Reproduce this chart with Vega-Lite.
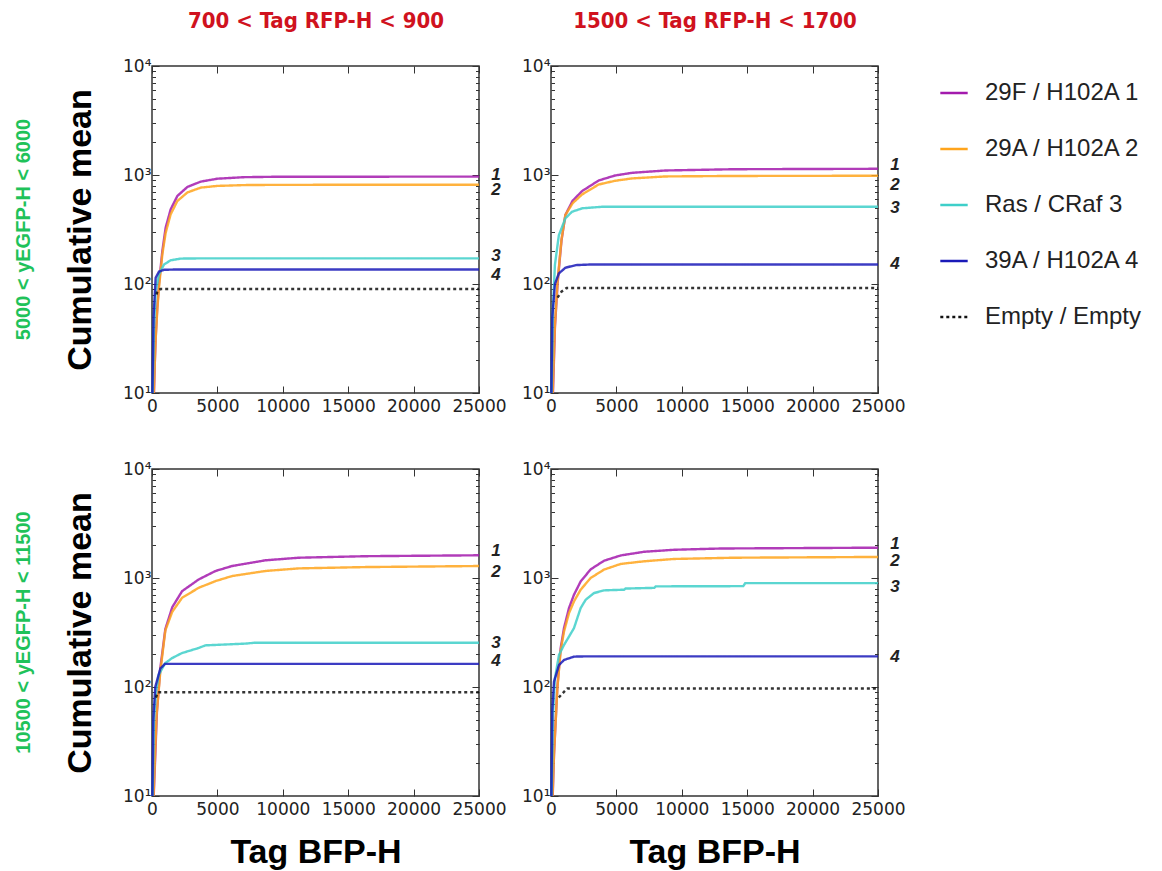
{
"$schema": "https://vega.github.io/schema/vega-lite/v6.json",
"padding": {"left": 12, "top": 8, "right": 5, "bottom": 0},
"datasets": {
"curves": [
{"p":"A","s":"29F / H102A 1","x":150,"y":10},{"p":"A","s":"29F / H102A 1","x":220,"y":20},{"p":"A","s":"29F / H102A 1","x":280,"y":32},{"p":"A","s":"29F / H102A 1","x":400,"y":60},{"p":"A","s":"29F / H102A 1","x":535,"y":100},{"p":"A","s":"29F / H102A 1","x":790,"y":201},{"p":"A","s":"29F / H102A 1","x":1045,"y":329},{"p":"A","s":"29F / H102A 1","x":1427,"y":484},{"p":"A","s":"29F / H102A 1","x":1937,"y":642},{"p":"A","s":"29F / H102A 1","x":2701,"y":776},{"p":"A","s":"29F / H102A 1","x":3720,"y":869},{"p":"A","s":"29F / H102A 1","x":4995,"y":925},{"p":"A","s":"29F / H102A 1","x":7033,"y":955},{"p":"A","s":"29F / H102A 1","x":9327,"y":963},{"p":"A","s":"29F / H102A 1","x":25000,"y":967},
{"p":"A","s":"29A / H102A 2","x":140,"y":10},{"p":"A","s":"29A / H102A 2","x":220,"y":20},{"p":"A","s":"29A / H102A 2","x":280,"y":31},{"p":"A","s":"29A / H102A 2","x":400,"y":57},{"p":"A","s":"29A / H102A 2","x":535,"y":93},{"p":"A","s":"29A / H102A 2","x":790,"y":187},{"p":"A","s":"29A / H102A 2","x":1045,"y":295},{"p":"A","s":"29A / H102A 2","x":1427,"y":436},{"p":"A","s":"29A / H102A 2","x":1937,"y":577},{"p":"A","s":"29A / H102A 2","x":2701,"y":691},{"p":"A","s":"29A / H102A 2","x":3720,"y":766},{"p":"A","s":"29A / H102A 2","x":4995,"y":794},{"p":"A","s":"29A / H102A 2","x":7033,"y":808},{"p":"A","s":"29A / H102A 2","x":9327,"y":812},{"p":"A","s":"29A / H102A 2","x":25000,"y":815},
{"p":"A","s":"Ras / CRaf 3","x":50,"y":10},{"p":"A","s":"Ras / CRaf 3","x":150,"y":40},{"p":"A","s":"Ras / CRaf 3","x":280,"y":86},{"p":"A","s":"Ras / CRaf 3","x":535,"y":123},{"p":"A","s":"Ras / CRaf 3","x":917,"y":151},{"p":"A","s":"Ras / CRaf 3","x":1427,"y":165},{"p":"A","s":"Ras / CRaf 3","x":2192,"y":171},{"p":"A","s":"Ras / CRaf 3","x":4000,"y":172},{"p":"A","s":"Ras / CRaf 3","x":25000,"y":172},
{"p":"A","s":"39A / H102A 4","x":30,"y":10},{"p":"A","s":"39A / H102A 4","x":120,"y":50},{"p":"A","s":"39A / H102A 4","x":280,"y":114},{"p":"A","s":"39A / H102A 4","x":535,"y":130},{"p":"A","s":"39A / H102A 4","x":917,"y":135},{"p":"A","s":"39A / H102A 4","x":2000,"y":136},{"p":"A","s":"39A / H102A 4","x":25000,"y":136},
{"p":"A","s":"Empty / Empty","x":350,"y":80},{"p":"A","s":"Empty / Empty","x":408,"y":86},{"p":"A","s":"Empty / Empty","x":663,"y":90},{"p":"A","s":"Empty / Empty","x":25000,"y":90},

{"p":"B","s":"29F / H102A 1","x":150,"y":10},{"p":"B","s":"29F / H102A 1","x":300,"y":40},{"p":"B","s":"29F / H102A 1","x":500,"y":100},{"p":"B","s":"29F / H102A 1","x":800,"y":250},{"p":"B","s":"29F / H102A 1","x":1100,"y":430},{"p":"B","s":"29F / H102A 1","x":1650,"y":580},{"p":"B","s":"29F / H102A 1","x":2370,"y":711},{"p":"B","s":"29F / H102A 1","x":3640,"y":890},{"p":"B","s":"29F / H102A 1","x":4900,"y":990},{"p":"B","s":"29F / H102A 1","x":6190,"y":1047},{"p":"B","s":"29F / H102A 1","x":8740,"y":1100},{"p":"B","s":"29F / H102A 1","x":14000,"y":1130},{"p":"B","s":"29F / H102A 1","x":25000,"y":1140},
{"p":"B","s":"29A / H102A 2","x":130,"y":10},{"p":"B","s":"29A / H102A 2","x":300,"y":42},{"p":"B","s":"29A / H102A 2","x":500,"y":105},{"p":"B","s":"29A / H102A 2","x":800,"y":255},{"p":"B","s":"29A / H102A 2","x":1100,"y":430},{"p":"B","s":"29A / H102A 2","x":1650,"y":550},{"p":"B","s":"29A / H102A 2","x":2370,"y":662},{"p":"B","s":"29A / H102A 2","x":3640,"y":818},{"p":"B","s":"29A / H102A 2","x":4900,"y":885},{"p":"B","s":"29A / H102A 2","x":6190,"y":930},{"p":"B","s":"29A / H102A 2","x":8740,"y":970},{"p":"B","s":"29A / H102A 2","x":14000,"y":980},{"p":"B","s":"29A / H102A 2","x":25000,"y":984},
{"p":"B","s":"Ras / CRaf 3","x":50,"y":10},{"p":"B","s":"Ras / CRaf 3","x":150,"y":60},{"p":"B","s":"Ras / CRaf 3","x":300,"y":150},{"p":"B","s":"Ras / CRaf 3","x":600,"y":280},{"p":"B","s":"Ras / CRaf 3","x":1100,"y":400},{"p":"B","s":"Ras / CRaf 3","x":1600,"y":460},{"p":"B","s":"Ras / CRaf 3","x":2400,"y":495},{"p":"B","s":"Ras / CRaf 3","x":3900,"y":511},{"p":"B","s":"Ras / CRaf 3","x":25000,"y":511},
{"p":"B","s":"39A / H102A 4","x":30,"y":10},{"p":"B","s":"39A / H102A 4","x":100,"y":50},{"p":"B","s":"39A / H102A 4","x":300,"y":100},{"p":"B","s":"39A / H102A 4","x":600,"y":125},{"p":"B","s":"39A / H102A 4","x":1100,"y":141},{"p":"B","s":"39A / H102A 4","x":1900,"y":149},{"p":"B","s":"39A / H102A 4","x":3000,"y":151},{"p":"B","s":"39A / H102A 4","x":25000,"y":151},
{"p":"B","s":"Empty / Empty","x":500,"y":75},{"p":"B","s":"Empty / Empty","x":800,"y":85},{"p":"B","s":"Empty / Empty","x":1200,"y":92},{"p":"B","s":"Empty / Empty","x":25000,"y":92},

{"p":"C","s":"29F / H102A 1","x":130,"y":10},{"p":"C","s":"29F / H102A 1","x":380,"y":60},{"p":"C","s":"29F / H102A 1","x":640,"y":150},{"p":"C","s":"29F / H102A 1","x":1020,"y":340},{"p":"C","s":"29F / H102A 1","x":1550,"y":540},{"p":"C","s":"29F / H102A 1","x":2300,"y":757},{"p":"C","s":"29F / H102A 1","x":3570,"y":970},{"p":"C","s":"29F / H102A 1","x":4850,"y":1159},{"p":"C","s":"29F / H102A 1","x":6120,"y":1288},{"p":"C","s":"29F / H102A 1","x":8670,"y":1453},{"p":"C","s":"29F / H102A 1","x":11220,"y":1535},{"p":"C","s":"29F / H102A 1","x":16330,"y":1585},{"p":"C","s":"29F / H102A 1","x":25000,"y":1616},
{"p":"C","s":"29A / H102A 2","x":120,"y":10},{"p":"C","s":"29A / H102A 2","x":350,"y":55},{"p":"C","s":"29A / H102A 2","x":640,"y":140},{"p":"C","s":"29A / H102A 2","x":1020,"y":330},{"p":"C","s":"29A / H102A 2","x":1550,"y":490},{"p":"C","s":"29A / H102A 2","x":2300,"y":658},{"p":"C","s":"29A / H102A 2","x":3570,"y":813},{"p":"C","s":"29A / H102A 2","x":4850,"y":936},{"p":"C","s":"29A / H102A 2","x":6120,"y":1042},{"p":"C","s":"29A / H102A 2","x":8670,"y":1160},{"p":"C","s":"29A / H102A 2","x":11220,"y":1225},{"p":"C","s":"29A / H102A 2","x":16330,"y":1260},{"p":"C","s":"29A / H102A 2","x":25000,"y":1288},
{"p":"C","s":"Ras / CRaf 3","x":50,"y":10},{"p":"C","s":"Ras / CRaf 3","x":150,"y":50},{"p":"C","s":"Ras / CRaf 3","x":300,"y":90},{"p":"C","s":"Ras / CRaf 3","x":510,"y":129},{"p":"C","s":"Ras / CRaf 3","x":1000,"y":165},{"p":"C","s":"Ras / CRaf 3","x":1530,"y":184},{"p":"C","s":"Ras / CRaf 3","x":2300,"y":205},{"p":"C","s":"Ras / CRaf 3","x":3570,"y":228},{"p":"C","s":"Ras / CRaf 3","x":4080,"y":241},{"p":"C","s":"Ras / CRaf 3","x":7140,"y":250},{"p":"C","s":"Ras / CRaf 3","x":7910,"y":255},{"p":"C","s":"Ras / CRaf 3","x":25000,"y":255},
{"p":"C","s":"39A / H102A 4","x":30,"y":10},{"p":"C","s":"39A / H102A 4","x":100,"y":50},{"p":"C","s":"39A / H102A 4","x":250,"y":100},{"p":"C","s":"39A / H102A 4","x":640,"y":148},{"p":"C","s":"39A / H102A 4","x":1000,"y":163},{"p":"C","s":"39A / H102A 4","x":25000,"y":163},
{"p":"C","s":"Empty / Empty","x":300,"y":80},{"p":"C","s":"Empty / Empty","x":450,"y":89.5},{"p":"C","s":"Empty / Empty","x":25000,"y":89.5},

{"p":"D","s":"29F / H102A 1","x":130,"y":10},{"p":"D","s":"29F / H102A 1","x":229,"y":24},{"p":"D","s":"29F / H102A 1","x":484,"y":99},{"p":"D","s":"29F / H102A 1","x":739,"y":227},{"p":"D","s":"29F / H102A 1","x":994,"y":347},{"p":"D","s":"29F / H102A 1","x":1376,"y":530},{"p":"D","s":"29F / H102A 1","x":1758,"y":703},{"p":"D","s":"29F / H102A 1","x":2268,"y":930},{"p":"D","s":"29F / H102A 1","x":3032,"y":1200},{"p":"D","s":"29F / H102A 1","x":4052,"y":1440},{"p":"D","s":"29F / H102A 1","x":5326,"y":1610},{"p":"D","s":"29F / H102A 1","x":7110,"y":1740},{"p":"D","s":"29F / H102A 1","x":9404,"y":1815},{"p":"D","s":"29F / H102A 1","x":13000,"y":1865},{"p":"D","s":"29F / H102A 1","x":25000,"y":1897},
{"p":"D","s":"29A / H102A 2","x":120,"y":10},{"p":"D","s":"29A / H102A 2","x":229,"y":24},{"p":"D","s":"29A / H102A 2","x":484,"y":97},{"p":"D","s":"29A / H102A 2","x":739,"y":215},{"p":"D","s":"29A / H102A 2","x":994,"y":323},{"p":"D","s":"29A / H102A 2","x":1376,"y":476},{"p":"D","s":"29A / H102A 2","x":1758,"y":610},{"p":"D","s":"29A / H102A 2","x":2268,"y":781},{"p":"D","s":"29A / H102A 2","x":3032,"y":1000},{"p":"D","s":"29A / H102A 2","x":4052,"y":1194},{"p":"D","s":"29A / H102A 2","x":5326,"y":1346},{"p":"D","s":"29A / H102A 2","x":7110,"y":1423},{"p":"D","s":"29A / H102A 2","x":9404,"y":1495},{"p":"D","s":"29A / H102A 2","x":14000,"y":1535},{"p":"D","s":"29A / H102A 2","x":25000,"y":1560},
{"p":"D","s":"Ras / CRaf 3","x":50,"y":10},{"p":"D","s":"Ras / CRaf 3","x":150,"y":55},{"p":"D","s":"Ras / CRaf 3","x":300,"y":120},{"p":"D","s":"Ras / CRaf 3","x":611,"y":197},{"p":"D","s":"Ras / CRaf 3","x":994,"y":243},{"p":"D","s":"Ras / CRaf 3","x":1376,"y":290},{"p":"D","s":"Ras / CRaf 3","x":1758,"y":347},{"p":"D","s":"Ras / CRaf 3","x":2013,"y":429},{"p":"D","s":"Ras / CRaf 3","x":2268,"y":530},{"p":"D","s":"Ras / CRaf 3","x":2650,"y":631},{"p":"D","s":"Ras / CRaf 3","x":3287,"y":727},{"p":"D","s":"Ras / CRaf 3","x":4052,"y":770},{"p":"D","s":"Ras / CRaf 3","x":5580,"y":781},{"p":"D","s":"Ras / CRaf 3","x":5700,"y":800},{"p":"D","s":"Ras / CRaf 3","x":7900,"y":812},{"p":"D","s":"Ras / CRaf 3","x":8000,"y":838},{"p":"D","s":"Ras / CRaf 3","x":14700,"y":842},{"p":"D","s":"Ras / CRaf 3","x":14850,"y":898},{"p":"D","s":"Ras / CRaf 3","x":25000,"y":898},
{"p":"D","s":"39A / H102A 4","x":30,"y":10},{"p":"D","s":"39A / H102A 4","x":100,"y":60},{"p":"D","s":"39A / H102A 4","x":229,"y":112},{"p":"D","s":"39A / H102A 4","x":611,"y":159},{"p":"D","s":"39A / H102A 4","x":994,"y":177},{"p":"D","s":"39A / H102A 4","x":1758,"y":190},{"p":"D","s":"39A / H102A 4","x":2625,"y":191},{"p":"D","s":"39A / H102A 4","x":25000,"y":191},
{"p":"D","s":"Empty / Empty","x":600,"y":80},{"p":"D","s":"Empty / Empty","x":866,"y":87},{"p":"D","s":"Empty / Empty","x":1248,"y":97},{"p":"D","s":"Empty / Empty","x":25000,"y":97}
],
"labels": [
{"p":"A","n":"1","y":1010},{"p":"A","n":"2","y":736},{"p":"A","n":"3","y":182},{"p":"A","n":"4","y":122},
{"p":"B","n":"1","y":1230},{"p":"B","n":"2","y":818},{"p":"B","n":"3","y":500},{"p":"B","n":"4","y":151},
{"p":"C","n":"1","y":1770},{"p":"C","n":"2","y":1140},{"p":"C","n":"3","y":251},{"p":"C","n":"4","y":172},
{"p":"D","n":"1","y":2065},{"p":"D","n":"2","y":1432},{"p":"D","n":"3","y":824},{"p":"D","n":"4","y":187}
]
},
"config": {
"font": "Liberation Sans",
"view": {"stroke": "#333333", "strokeWidth": 1.5},
"axis": {"domain": false, "grid": false, "ticks": true, "tickColor": "#333333", "tickWidth": 1, "labelFont": "DejaVu Sans", "labelFontSize": 17, "labelColor": "#222222", "labelOverlap": false, "labelFlush": false, "titleFont": "Liberation Sans", "titleFontSize": 34, "titleFontWeight": "bold", "titleColor": "#000000"},
"axisY": {"titlePadding": 25, "labelPadding": 8},
"axisX": {"titlePadding": 18, "labelPadding": 12, "format": "d"},
"title": {"orient": "left", "anchor": "middle", "frame": "group", "color": "#1fc25a", "fontSize": 20, "fontWeight": "bold", "font": "Liberation Sans", "offset": 30},
"legend": {"orient": "none", "legendX": 787, "legendY": 12, "labelFont": "Liberation Sans", "labelFontSize": 24, "labelColor": "#222222", "symbolType": "stroke", "symbolSize": 750, "symbolStrokeWidth": 3, "rowPadding": 29, "labelOffset": 16, "labelLimit": 400},
"line": {"strokeWidth": 2.4, "opacity": 0.85, "clip": true},
"text": {"fontSize": 17, "fontWeight": "bold", "fontStyle": "italic", "dx": 17, "align": "center", "baseline": "middle", "color": "#222222"}
},
"spacing": 44,
"vconcat": [
{
"bounds": "flush",
"spacing": 72,
"hconcat": [
{
"title": {"text": "5000 < yEGFP-H < 6000"},
"width": 327, "height": 327,
"layer": [
{"data": {"name": "curves"}, "transform": [{"filter": "datum.p == 'A'"}], "mark": "line",
"encoding": {
"x": {"field": "x", "type": "quantitative", "scale": {"domain": [0, 25000], "nice": false}, "axis": {"values": [0, 5000, 10000, 15000, 20000, 25000], "title": null, "tickSize": -7}},
"y": {"field": "y", "type": "quantitative", "scale": {"type": "log", "domain": [10, 10000]}, "axis": {"orient": "left", "values": [10,20,30,40,50,60,70,80,90,100,200,300,400,500,600,700,800,900,1000,2000,3000,4000,5000,6000,7000,8000,9000,10000], "labelExpr": "datum.value == 10 ? '10¹' : datum.value == 100 ? '10²' : datum.value == 1000 ? '10³' : datum.value == 10000 ? '10⁴' : ''", "tickSize": {"condition": {"test": "datum.value == 10 || datum.value == 100 || datum.value == 1000 || datum.value == 10000", "value": -7}, "value": -3.5}, "title": "Cumulative mean"}},
"color": {"field": "s", "type": "nominal", "scale": {"domain": ["29F / H102A 1", "29A / H102A 2", "Ras / CRaf 3", "39A / H102A 4", "Empty / Empty"], "range": ["#a31aad", "#ffa41c", "#3ecfc9", "#1a1ab8", "#111111"]}, "legend": {"title": null}},
"strokeDash": {"field": "s", "type": "nominal", "scale": {"domain": ["29F / H102A 1", "29A / H102A 2", "Ras / CRaf 3", "39A / H102A 4", "Empty / Empty"], "range": [[1, 0], [1, 0], [1, 0], [1, 0], [3, 3]]}, "legend": {"title": null}}
}},
{"data": {"name": "labels"}, "transform": [{"filter": "datum.p == 'A'"}], "mark": "text",
"encoding": {
"x": {"datum": 25000, "type": "quantitative", "axis": {"orient": "top", "values": [0, 5000, 10000, 15000, 20000, 25000], "labels": false, "tickSize": -7, "title": "700 < Tag RFP-H < 900", "titleColor": "#d0121e", "titleFont": "DejaVu Sans Condensed", "titleFontSize": 22, "titlePadding": 33}},
"y": {"field": "y", "type": "quantitative", "axis": {"orient": "right", "values": [10,20,30,40,50,60,70,80,90,100,200,300,400,500,600,700,800,900,1000,2000,3000,4000,5000,6000,7000,8000,9000,10000], "labels": false, "tickSize": {"condition": {"test": "datum.value == 10 || datum.value == 100 || datum.value == 1000 || datum.value == 10000", "value": -7}, "value": -3.5}, "title": null}},
"text": {"field": "n"}
}}
],
"resolve": {"axis": {"y": "independent", "x": "independent"}}
},
{
"width": 327, "height": 327,
"layer": [
{"data": {"name": "curves"}, "transform": [{"filter": "datum.p == 'B'"}], "mark": "line",
"encoding": {
"x": {"field": "x", "type": "quantitative", "scale": {"domain": [0, 25000], "nice": false}, "axis": {"values": [0, 5000, 10000, 15000, 20000, 25000], "title": null, "tickSize": -7}},
"y": {"field": "y", "type": "quantitative", "scale": {"type": "log", "domain": [10, 10000]}, "axis": {"orient": "left", "values": [10,20,30,40,50,60,70,80,90,100,200,300,400,500,600,700,800,900,1000,2000,3000,4000,5000,6000,7000,8000,9000,10000], "labelExpr": "datum.value == 10 ? '10¹' : datum.value == 100 ? '10²' : datum.value == 1000 ? '10³' : datum.value == 10000 ? '10⁴' : ''", "tickSize": {"condition": {"test": "datum.value == 10 || datum.value == 100 || datum.value == 1000 || datum.value == 10000", "value": -7}, "value": -3.5}, "title": null}},
"color": {"field": "s", "type": "nominal", "scale": {"domain": ["29F / H102A 1", "29A / H102A 2", "Ras / CRaf 3", "39A / H102A 4", "Empty / Empty"], "range": ["#a31aad", "#ffa41c", "#3ecfc9", "#1a1ab8", "#111111"]}, "legend": {"title": null}},
"strokeDash": {"field": "s", "type": "nominal", "scale": {"domain": ["29F / H102A 1", "29A / H102A 2", "Ras / CRaf 3", "39A / H102A 4", "Empty / Empty"], "range": [[1, 0], [1, 0], [1, 0], [1, 0], [3, 3]]}, "legend": {"title": null}}
}},
{"data": {"name": "labels"}, "transform": [{"filter": "datum.p == 'B'"}], "mark": "text",
"encoding": {
"x": {"datum": 25000, "type": "quantitative", "axis": {"orient": "top", "values": [0, 5000, 10000, 15000, 20000, 25000], "labels": false, "tickSize": -7, "title": "1500 < Tag RFP-H < 1700", "titleColor": "#d0121e", "titleFont": "DejaVu Sans Condensed", "titleFontSize": 22, "titlePadding": 33}},
"y": {"field": "y", "type": "quantitative", "axis": {"orient": "right", "values": [10,20,30,40,50,60,70,80,90,100,200,300,400,500,600,700,800,900,1000,2000,3000,4000,5000,6000,7000,8000,9000,10000], "labels": false, "tickSize": {"condition": {"test": "datum.value == 10 || datum.value == 100 || datum.value == 1000 || datum.value == 10000", "value": -7}, "value": -3.5}, "title": null}},
"text": {"field": "n"}
}}
],
"resolve": {"axis": {"y": "independent", "x": "independent"}}
}
]
},
{
"bounds": "flush",
"spacing": 72,
"hconcat": [
{
"title": {"text": "10500 < yEGFP-H < 11500"},
"width": 327, "height": 327,
"layer": [
{"data": {"name": "curves"}, "transform": [{"filter": "datum.p == 'C'"}], "mark": "line",
"encoding": {
"x": {"field": "x", "type": "quantitative", "scale": {"domain": [0, 25000], "nice": false}, "axis": {"values": [0, 5000, 10000, 15000, 20000, 25000], "title": "Tag BFP-H", "tickSize": -7}},
"y": {"field": "y", "type": "quantitative", "scale": {"type": "log", "domain": [10, 10000]}, "axis": {"orient": "left", "values": [10,20,30,40,50,60,70,80,90,100,200,300,400,500,600,700,800,900,1000,2000,3000,4000,5000,6000,7000,8000,9000,10000], "labelExpr": "datum.value == 10 ? '10¹' : datum.value == 100 ? '10²' : datum.value == 1000 ? '10³' : datum.value == 10000 ? '10⁴' : ''", "tickSize": {"condition": {"test": "datum.value == 10 || datum.value == 100 || datum.value == 1000 || datum.value == 10000", "value": -7}, "value": -3.5}, "title": "Cumulative mean"}},
"color": {"field": "s", "type": "nominal", "scale": {"domain": ["29F / H102A 1", "29A / H102A 2", "Ras / CRaf 3", "39A / H102A 4", "Empty / Empty"], "range": ["#a31aad", "#ffa41c", "#3ecfc9", "#1a1ab8", "#111111"]}, "legend": {"title": null}},
"strokeDash": {"field": "s", "type": "nominal", "scale": {"domain": ["29F / H102A 1", "29A / H102A 2", "Ras / CRaf 3", "39A / H102A 4", "Empty / Empty"], "range": [[1, 0], [1, 0], [1, 0], [1, 0], [3, 3]]}, "legend": {"title": null}}
}},
{"data": {"name": "labels"}, "transform": [{"filter": "datum.p == 'C'"}], "mark": "text",
"encoding": {
"x": {"datum": 25000, "type": "quantitative", "axis": {"orient": "top", "values": [0, 5000, 10000, 15000, 20000, 25000], "labels": false, "title": null, "tickSize": -7}},
"y": {"field": "y", "type": "quantitative", "axis": {"orient": "right", "values": [10,20,30,40,50,60,70,80,90,100,200,300,400,500,600,700,800,900,1000,2000,3000,4000,5000,6000,7000,8000,9000,10000], "labels": false, "tickSize": {"condition": {"test": "datum.value == 10 || datum.value == 100 || datum.value == 1000 || datum.value == 10000", "value": -7}, "value": -3.5}, "title": null}},
"text": {"field": "n"}
}}
],
"resolve": {"axis": {"y": "independent", "x": "independent"}}
},
{
"width": 327, "height": 327,
"layer": [
{"data": {"name": "curves"}, "transform": [{"filter": "datum.p == 'D'"}], "mark": "line",
"encoding": {
"x": {"field": "x", "type": "quantitative", "scale": {"domain": [0, 25000], "nice": false}, "axis": {"values": [0, 5000, 10000, 15000, 20000, 25000], "title": "Tag BFP-H", "tickSize": -7}},
"y": {"field": "y", "type": "quantitative", "scale": {"type": "log", "domain": [10, 10000]}, "axis": {"orient": "left", "values": [10,20,30,40,50,60,70,80,90,100,200,300,400,500,600,700,800,900,1000,2000,3000,4000,5000,6000,7000,8000,9000,10000], "labelExpr": "datum.value == 10 ? '10¹' : datum.value == 100 ? '10²' : datum.value == 1000 ? '10³' : datum.value == 10000 ? '10⁴' : ''", "tickSize": {"condition": {"test": "datum.value == 10 || datum.value == 100 || datum.value == 1000 || datum.value == 10000", "value": -7}, "value": -3.5}, "title": null}},
"color": {"field": "s", "type": "nominal", "scale": {"domain": ["29F / H102A 1", "29A / H102A 2", "Ras / CRaf 3", "39A / H102A 4", "Empty / Empty"], "range": ["#a31aad", "#ffa41c", "#3ecfc9", "#1a1ab8", "#111111"]}, "legend": {"title": null}},
"strokeDash": {"field": "s", "type": "nominal", "scale": {"domain": ["29F / H102A 1", "29A / H102A 2", "Ras / CRaf 3", "39A / H102A 4", "Empty / Empty"], "range": [[1, 0], [1, 0], [1, 0], [1, 0], [3, 3]]}, "legend": {"title": null}}
}},
{"data": {"name": "labels"}, "transform": [{"filter": "datum.p == 'D'"}], "mark": "text",
"encoding": {
"x": {"datum": 25000, "type": "quantitative", "axis": {"orient": "top", "values": [0, 5000, 10000, 15000, 20000, 25000], "labels": false, "title": null, "tickSize": -7}},
"y": {"field": "y", "type": "quantitative", "axis": {"orient": "right", "values": [10,20,30,40,50,60,70,80,90,100,200,300,400,500,600,700,800,900,1000,2000,3000,4000,5000,6000,7000,8000,9000,10000], "labels": false, "tickSize": {"condition": {"test": "datum.value == 10 || datum.value == 100 || datum.value == 1000 || datum.value == 10000", "value": -7}, "value": -3.5}, "title": null}},
"text": {"field": "n"}
}}
],
"resolve": {"axis": {"y": "independent", "x": "independent"}}
}
]
}
]
}
